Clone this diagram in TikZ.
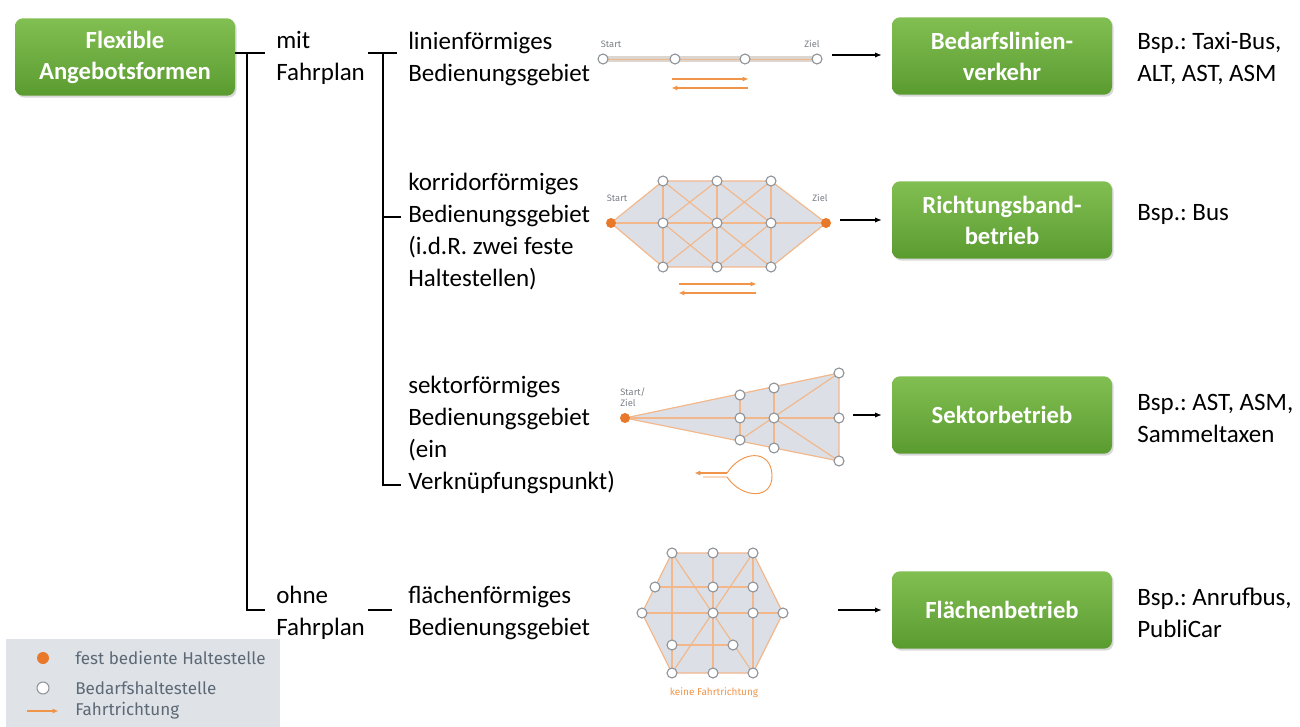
\documentclass[tikz,border=0pt]{standalone}
\usepackage{fontspec}
\setmainfont{Carlito}
\newfontfamily\legfont{Fira Sans}
\usetikzlibrary{arrows.meta,shadows}
\definecolor{gtop}{HTML}{82BF52}
\definecolor{gbot}{HTML}{5A9B30}
\definecolor{areagray}{HTML}{DCE0E6}
\definecolor{edgeor}{HTML}{F2B88C}
\definecolor{stopgray}{HTML}{8C9198}
\definecolor{fixor}{HTML}{E8782A}
\definecolor{diror}{HTML}{F0944A}
\definecolor{lblgray}{HTML}{7A8088}
\definecolor{leggray}{HTML}{DFE3E8}
\definecolor{legtext}{HTML}{5E6976}
\definecolor{bargray}{HTML}{DCD6D0}
\newcommand{\firstl}{\rule{0pt}{13.8pt}}
\frenchspacing
\begin{document}
\begin{tikzpicture}[x=0.75pt,y=-0.75pt,
  gbox/.style={rounded corners=6pt, minimum width=165pt, minimum height=58pt,
    top color=gtop, bottom color=gbot, draw=none, text=white,
    font=\bfseries\fontsize{18.5}{23.25}\selectfont, align=center,
    drop shadow={shadow xshift=1.2pt,shadow yshift=-1.5pt,opacity=0.3}},
  txt/.style={font=\fontsize{18.75}{24}\selectfont, align=left, anchor=north west, inner sep=0pt},
  tree/.style={line width=0.9pt, black},
  net/.style={draw=edgeor, line width=0.9pt},
  stop/.style={circle, draw=stopgray, fill=white, line width=0.8pt, minimum size=7.5pt, inner sep=0pt},
  fix/.style={circle, fill=fixor, minimum size=7.5pt, inner sep=0pt},
  area/.style={fill=areagray},
  dir/.style={draw=diror, line width=0.8pt, -{Triangle[length=4pt,width=3.2pt]}},
  lbl/.style={font=\legfont\fontsize{7}{8.2}\selectfont, text=lblgray, inner sep=0pt, align=left},
  conn/.style={line width=0.9pt, -{Latex[length=5pt,width=4pt]}, shorten >=7.5pt},
  legtxt/.style={font=\legfont\fontsize{12.8}{15}\selectfont, text=legtext, anchor=west, inner sep=0pt}
]
\useasboundingbox (0,0) rectangle (1300,727);

% ---------- green boxes ----------
\node[gbox] (root) at (125,57) {Flexible\\Angebotsformen};
\node[gbox] (b1) at (1002,56) {Bedarfslinien-\\verkehr};
\node[gbox] (b2) at (1002,220) {Richtungsband-\\betrieb};
\node[gbox] (b3) at (1002,415) {Sektorbetrieb};
\node[gbox] (b4) at (1002,610) {Flächenbetrieb};

% ---------- texts ----------
\node[txt] (mit) at (276,30) {\firstl mit\\Fahrplan};
\node[txt] (ohne) at (276,585) {\firstl ohne\\Fahrplan};
\node[txt] (t1) at (408,31) {\firstl linienförmiges\\Bedienungsgebiet};
\node[txt] (t2) at (408,172) {\firstl korridorförmiges\\Bedienungsgebiet\\(i.d.R. zwei feste\\Haltestellen)};
\node[txt] (t3) at (408,375) {\firstl sektorförmiges\\Bedienungsgebiet\\(ein\\Verknüpfungspunkt)};
\node[txt] (t4) at (408,585) {\firstl flächenförmiges\\Bedienungsgebiet};
\node[txt] (e1) at (1137,31) {\firstl Bsp.: Taxi-Bus,\\ALT, AST, ASM};
\node[txt] (e2) at (1137,202) {\firstl Bsp.: Bus};
\node[txt] (e3) at (1137,392) {\firstl Bsp.: AST, ASM,\\Sammeltaxen};
\node[txt] (e4) at (1137,587) {\firstl Bsp.: Anrufbus,\\PubliCar};

% ---------- tree lines ----------
\coordinate (m1) at (247,53);
\coordinate (m1e) at (265,53);
\coordinate (m2) at (247,610);
\coordinate (m2e) at (265,610);
\draw[tree] (root.east |- m1) -- (m1e);
\draw[tree] (m1) -- (m2) -- (m2e);
\coordinate (k0) at (368,53);
\coordinate (k0e) at (397,53);
\coordinate (k1) at (383,53);
\coordinate (k2) at (383,217);
\coordinate (k2e) at (401,217);
\coordinate (k3) at (383,485);
\coordinate (k3e) at (401,485);
\draw[tree] (k0) -- (k0e);
\draw[tree] (k1) -- (k3) -- (k3e);
\draw[tree] (k2) -- (k2e);
\coordinate (o1) at (368,610);
\coordinate (o2) at (392,610);
\draw[tree] (o1) -- (o2);

% ---------- diagram 1: line ----------
\coordinate (L1) at (603,59);
\coordinate (L2) at (675,59);
\coordinate (L3) at (745,59);
\coordinate (L4) at (817,59);
\draw[bargray, line width=5.2pt] (L1) -- (L4);
\draw[edgeor, line width=0.7pt] (L1) -- (L4);
\foreach \n in {L1,L2,L3,L4} \node[stop] (s\n) at (\n) {};
\node[lbl] (st1) at (611,44) {Start};
\node[lbl] (zi1) at (812,44) {Ziel};
\coordinate (ar1a) at (672,79);
\coordinate (ar1b) at (748,79);
\coordinate (ar1c) at (748,88);
\coordinate (ar1d) at (672,88);
\draw[dir] (ar1a) -- (ar1b);
\draw[dir] (ar1c) -- (ar1d);

% ---------- diagram 2: corridor ----------
\coordinate (S2) at (611,223);
\coordinate (Z2) at (826,223);
\coordinate (a1) at (663,181); \coordinate (a2) at (717,181); \coordinate (a3) at (771,181);
\coordinate (c1) at (663,267); \coordinate (c2) at (717,267); \coordinate (c3) at (771,267);
\coordinate (d1) at (663,223); \coordinate (d2) at (717,223); \coordinate (d3) at (771,223);
\fill[areagray] (S2) -- (a1) -- (a3) -- (Z2) -- (c3) -- (c1) -- cycle;
\draw[net] (S2) -- (a1) -- (a3) -- (Z2) -- (c3) -- (c1) -- cycle;
\draw[net] (S2) -- (Z2);
\draw[net] (a1) -- (c1); \draw[net] (a2) -- (c2); \draw[net] (a3) -- (c3);
\draw[net] (a1) -- (c3); \draw[net] (c1) -- (a3);
\draw[net] (a2) -- (d1) -- (c2); \draw[net] (a2) -- (d3) -- (c2);
\node[fix] (fS2) at (S2) {};
\node[fix] (fZ2) at (Z2) {};
\foreach \n in {a1,a2,a3,c1,c2,c3,d1,d2,d3} \node[stop] (s\n) at (\n) {};
\node[lbl] (st2) at (617,198) {Start};
\node[lbl] (zi2) at (820,198) {Ziel};
\coordinate (ar2a) at (679,284);
\coordinate (ar2b) at (756,284);
\coordinate (ar2c) at (756,293);
\coordinate (ar2d) at (679,293);
\draw[dir] (ar2a) -- (ar2b);
\draw[dir] (ar2c) -- (ar2d);

% ---------- diagram 3: sector ----------
\coordinate (S3) at (625,418);
\coordinate (p1) at (740,395); \coordinate (p2) at (740,418); \coordinate (p3) at (740,440);
\coordinate (q1) at (774,388); \coordinate (q2) at (774,418); \coordinate (q3) at (774,448);
\coordinate (r1) at (839,373); \coordinate (r2) at (839,418); \coordinate (r3) at (839,461);
\fill[areagray] (S3) -- (r1) -- (r3) -- cycle;
\draw[net] (S3) -- (r1) -- (r3) -- cycle;
\draw[net] (S3) -- (r2);
\draw[net] (p1) -- (p3); \draw[net] (q1) -- (q3);
\draw[net] (p3) -- (r1); \draw[net] (q2) -- (r3);
\node[fix] (fS3) at (S3) {};
\foreach \n in {p1,p2,p3,q1,q2,q3,r1,r2,r3} \node[stop] (s\n) at (\n) {};
\node[lbl, anchor=west] (st3) at (620,397) {Start/\\Ziel};
\coordinate (lp0) at (703,477);
\coordinate (lp1) at (727,477);
\coordinate (lp2) at (727,473);
\coordinate (lp3) at (695,473);
\draw[diror, line width=0.7pt] (lp0) -- (lp1) .. controls (742,499) and (773,500) .. (772,475)
   .. controls (771,449) and (742,450) .. (lp2);
\draw[dir] (lp2) -- (lp3);

% ---------- diagram 4: area ----------
\coordinate (h1) at (672,553); \coordinate (h2) at (713,553); \coordinate (h3) at (753,553);
\coordinate (u1) at (655,587); \coordinate (u2) at (713,587); \coordinate (u3) at (753,587);
\coordinate (v1) at (642,613); \coordinate (v2) at (713,613); \coordinate (v3) at (753,613); \coordinate (v4) at (783,613);
\coordinate (w1) at (672,645); \coordinate (w2) at (733,645);
\coordinate (x1) at (672,673); \coordinate (x2) at (713,673); \coordinate (x3) at (753,673);
\fill[areagray] (h1) -- (h3) -- (v4) -- (x3) -- (x1) -- (v1) -- cycle;
\draw[net] (h1) -- (h3) -- (v4) -- (x3) -- (x1) -- (v1) -- cycle;
\draw[net] (h1) -- (x1); \draw[net] (h2) -- (x2); \draw[net] (h3) -- (x3);
\draw[net] (u1) -- (u3); \draw[net] (v1) -- (v4); \draw[net] (w1) -- (w2);
\draw[net] (h1) -- (x3); \draw[net] (h3) -- (x1);
\foreach \n in {h1,h2,h3,u1,u2,u3,v1,v2,v3,v4,w1,w2,x1,x2,x3} \node[stop] (s\n) at (\n) {};
\node[lbl, text=diror, font=\legfont\fontsize{7.5}{9}\selectfont] (kf) at (714,693) {keine Fahrtrichtung};

% ---------- black arrows ----------
\coordinate (ca1) at (832,55);
\coordinate (ca2) at (840,220);
\coordinate (ca3) at (853,415);
\coordinate (ca4) at (838,610);
\draw[conn] (ca1) -- (b1.west |- ca1);
\draw[conn] (ca2) -- (b2.west |- ca2);
\draw[conn] (ca3) -- (b3.west |- ca3);
\draw[conn] (ca4) -- (b4.west |- ca4);

% ---------- legend ----------
\fill[leggray] (6,639) rectangle (280,727);
\node[fix, minimum size=9pt] (lg1) at (43,658) {};
\node[stop, minimum size=9pt] (lg2) at (43,688) {};
\coordinate (lg3a) at (27,711);
\coordinate (lg3b) at (58,711);
\draw[dir, line width=1pt] (lg3a) -- (lg3b);
\node[legtxt] (lt1) at (75,658) {fest bediente Haltestelle};
\node[legtxt] (lt2) at (75,688) {Bedarfshaltestelle};
\node[legtxt] (lt3) at (75,711) {Fahrtrichtung};
\end{tikzpicture}
\end{document}
